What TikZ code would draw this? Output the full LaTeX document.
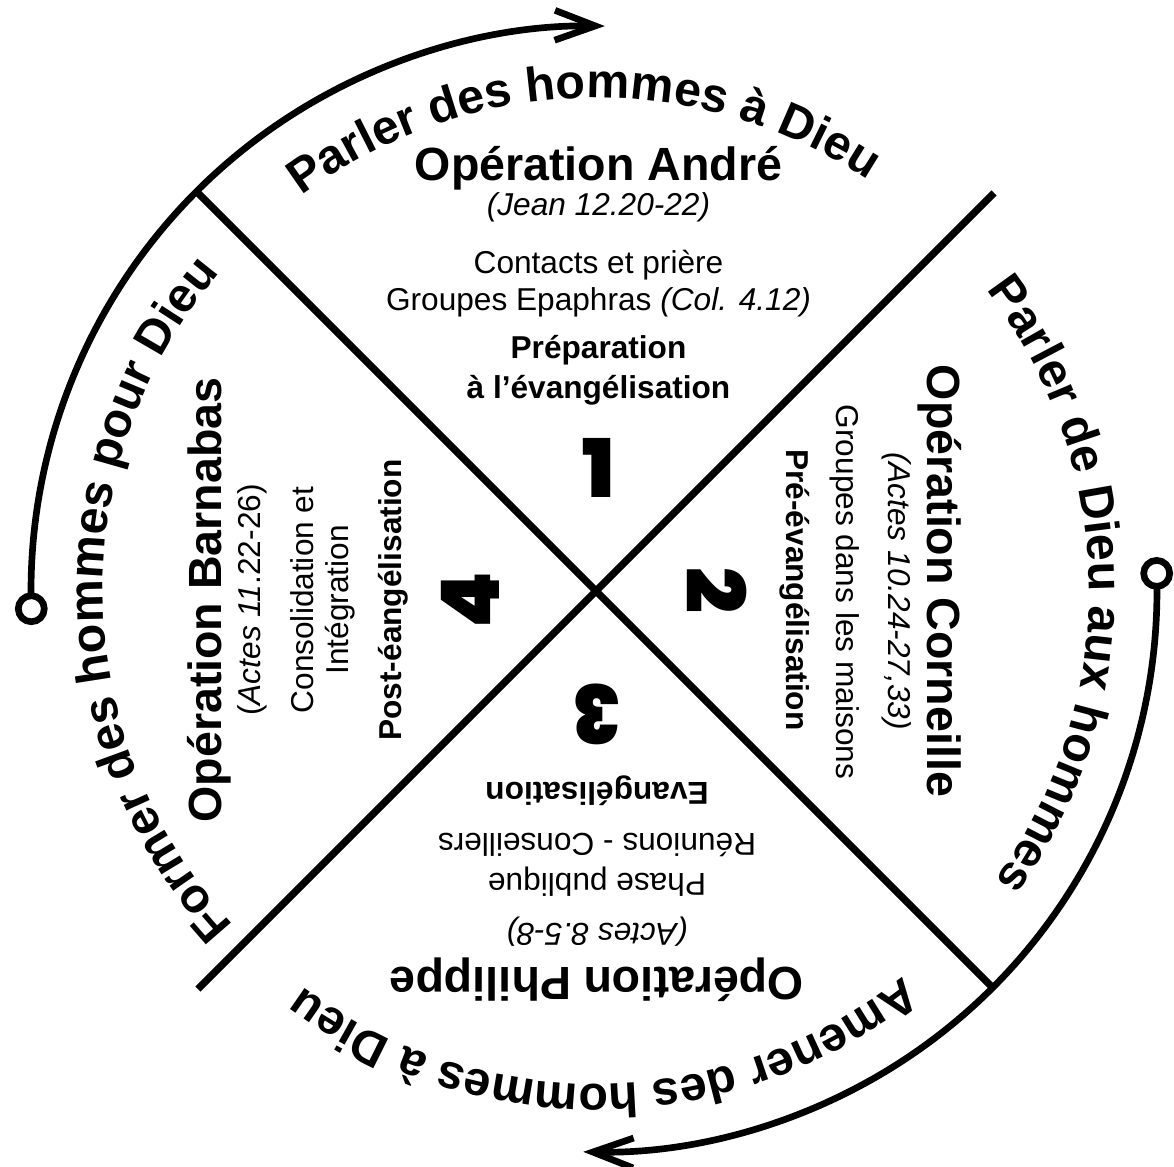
\documentclass[tikz,border=0pt]{standalone}
\usepackage{fontspec}
\setmainfont{Liberation Sans}
\IfFontExistsTF{Poppins Black}{%
  \newfontfamily\heavyfont{Poppins Black}\newcommand\digitsize{\fontsize{46}{50}\selectfont}}{%
  \IfFontExistsTF{Open Sans ExtraBold}{%
    \newfontfamily\heavyfont{Open Sans ExtraBold}\newcommand\digitsize{\fontsize{45}{50}\selectfont}}{%
    \newfontfamily\heavyfont{Liberation Sans Bold}[FakeBold=4]\newcommand\digitsize{\fontsize{45}{50}\selectfont}}}
\usetikzlibrary{arrows.meta,decorations.text}
\newcommand\curvefont{\fontsize{27.5}{30}\selectfont\bfseries}
\begin{document}
\begin{tikzpicture}[x=0.02cm,y=0.02cm,
  body/.style={font=\fontsize{18}{21}\selectfont, inner sep=0pt},
  ttl/.style={font=\fontsize{26.5}{30}\selectfont\bfseries, inner sep=0pt},
  phasetxt/.style={font=\fontsize{18}{21}\selectfont\bfseries, inner sep=0pt},
  digit/.style={font=\heavyfont\digitsize, inner sep=0pt},
  divider/.style={line width=4.1pt},
  cyclearc/.style={line width=3.8pt, -{Straight Barb[length=23pt,width=17pt]}},
  ring/.style={line width=3.8pt, fill=white},
  curved/.style={decorate, decoration={text along path, text align=center, text={|\curvefont|#1}}}
]
\useasboundingbox (-596,-576) rectangle (578,591);
\coordinate (O) at (0,0);
% dividers
\coordinate (tl) at (135:563);
\coordinate (br) at (-45:563);
\coordinate (tr) at (45:563);
\coordinate (bl) at (-135:563);
\draw[divider] (tl) -- (br);
\draw[divider] (tr) -- (bl);
% cycle arcs
\coordinate (lring) at (181.8:565);
\coordinate (rring) at (1.8:561);
\draw[cyclearc] (lring) arc[start angle=181.8, end angle=89.1, radius=565];
\draw[cyclearc] (rring) arc[start angle=1.8, end angle=-91.3, radius=561];
\draw[ring] (lring) circle[radius=13];
\draw[ring] (rring) circle[radius=13];
% curved labels
\path[curved={Parler des hommes à Dieu}] (151.6:493) arc[start angle=151.6, end angle=31.6, radius=493];
\path[curved={Parler de Dieu aux hommes}] (60.8:493) arc[start angle=60.8, end angle=-59.2, radius=493];
\path[curved={Amener des hommes à Dieu}] (-29:493) arc[start angle=-29, end angle=-149, radius=493];
\path[curved={Former des hommes pour Dieu}] (241.2:493) arc[start angle=241.2, end angle=121.2, radius=493];
% top quadrant
\node[ttl] (andre) at (2.5,423) {Opération André};
\node[body] (jean) at (2.5,384) {\textit{(Jean 12.20-22)}};
\node[body] (contacts) at (2.5,326) {Contacts et prière};
\node[body] (epaphras) at (2.5,289) {Groupes Epaphras \textit{(Col. 4.12)}};
\node[phasetxt] (prepa) at (2.5,241) {Préparation};
\node[phasetxt] (prepb) at (2.5,201) {à l’évangélisation};
\node[digit] (n1) at (2.5,123) {1};
% right quadrant
\node[ttl, rotate=-90] (corneille) at (344,10) {Opération Corneille};
\node[body, rotate=-90] (actes10) at (301,0) {\textit{(Actes 10.24-27,33)}};
\node[body, rotate=-90] (maisons) at (249,-1) {Groupes dans les maisons};
\node[phasetxt, rotate=-90] (pre) at (199,1) {Pré-évangélisation};
\node[digit, rotate=-90] (n2) at (121,1) {2};
% bottom quadrant
\node[ttl, rotate=180] (philippe) at (1,-389) {Opération Philippe};
\node[body, rotate=180] (actes8) at (1,-341) {\textit{(Actes 8.5-8)}};
\node[body, rotate=180] (publique) at (1,-291) {Phase publique};
\node[body, rotate=180] (reunions) at (1,-254) {Réunions - Conseillers};
\node[phasetxt, rotate=180] (evang) at (1,-200) {Evangélisation};
\node[digit, rotate=180] (n3) at (1,-123) {3};
% left quadrant
\node[ttl, rotate=90] (barnabas) at (-387,-9) {Opération Barnabas};
\node[body, rotate=90] (actes11) at (-344,-9) {(\textit{Actes 11}.22-26)};
\node[body, rotate=90] (consol) at (-294,-9) {Consolidation et};
\node[body, rotate=90] (integ) at (-256,-9) {Intégration};
\node[phasetxt, rotate=90] (post) at (-203,-9) {Post-éangélisation};
\node[digit, rotate=90] (n4) at (-126,-9) {4};
\end{tikzpicture}
\end{document}
